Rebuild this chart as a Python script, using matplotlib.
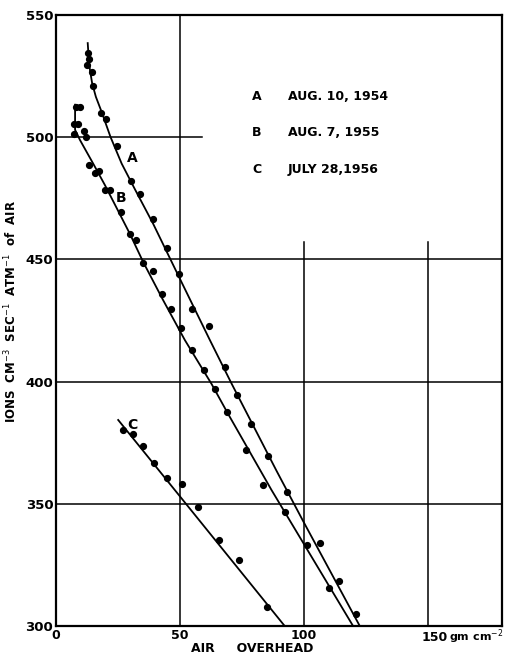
import matplotlib.pyplot as plt

# measured points (air overhead in gm cm^-2, ions cm^-3 sec^-1 atm^-1)
a_x = [13.0, 13.3, 12.6, 14.4, 15.0, 18.0, 20.2, 24.7, 30.1, 33.9, 39.0, 44.6,
       49.5, 55.0, 61.7, 68.1, 72.9, 78.9, 85.6, 93.4, 106.7, 114.1, 121.2]
a_y = [534.5, 531.8, 529.5, 526.5, 520.9, 510.1, 507.3, 496.3, 482.1, 476.6,
       466.4, 454.8, 443.9, 429.8, 422.7, 405.9, 394.5, 382.6, 369.4, 354.9,
       334.1, 318.4, 305.0]

b_x = [8.0, 9.5, 7.3, 8.7, 7.4, 11.3, 12.0, 13.3, 15.7, 17.5, 19.9, 21.6, 26.2,
       29.8, 32.1, 35.2, 39.2, 42.6, 46.4, 50.4, 54.7, 59.7, 64.1, 69.2, 76.6,
       83.6, 92.3, 101.3, 110.2]
b_y = [512.4, 512.2, 505.3, 505.3, 501.5, 502.5, 499.9, 488.5, 485.4, 486.0,
       478.6, 478.6, 469.4, 460.5, 457.8, 448.6, 445.2, 435.9, 429.8, 421.8,
       413.0, 404.8, 397.0, 387.4, 372.0, 357.8, 346.8, 333.2, 315.7]

c_x = [27.1, 30.9, 35.1, 39.4, 44.9, 50.7, 57.5, 65.7, 73.9, 85.2]
c_y = [380.3, 378.4, 373.8, 366.7, 360.4, 358.1, 348.5, 335.1, 326.9, 307.8]

# hand drawn curves
a_line_x = [12.8, 13.3, 13.7, 14.6, 16.1, 18.4, 22.0, 26.5, 31.9, 39.2, 49.7,
            62.1, 70.8, 89.0, 99.7, 122.6]
a_line_y = [538.5, 531.0, 527.5, 522.0, 516.5, 510.4, 500.1, 489.2, 478.6,
            464.6, 442.7, 417.0, 399.3, 363.5, 343.0, 300.0]
b_line_x = [7.7, 7.7, 9.7, 15.0, 19.8, 29.8, 35.2, 43.3, 52.0, 62.8, 69.5,
            87.0, 119.9]
b_line_y = [513.3, 503.0, 498.8, 489.2, 480.3, 460.5, 448.9, 433.2, 417.0,
            399.0, 386.7, 355.6, 300.0]
c_line_x = [25.1, 92.3]
c_line_y = [384.3, 300.0]

legend_keys = ["A", "B", "C"]
legend_dates = ["AUG. 10, 1954", "AUG. 7, 1955", "JULY 28,1956"]
legend_y = [516.8, 501.8, 486.8]

fig = plt.figure(figsize=(5.05, 6.58), dpi=100)
ax = fig.add_axes([56 / 505, 32 / 658, 446 / 505, 611 / 658])
ax.set_xlim(0, 180)
ax.set_ylim(300, 550)

bold = dict(fontweight="bold", family="DejaVu Sans")

# grid (partial lines as on the original sheet)
for v in [350, 400, 450]:
    ax.plot([0, 180], [v, v], color="black", lw=1.1, zorder=1)
ax.plot([0, 59], [500, 500], color="black", lw=1.1, zorder=1)
ax.plot([50, 50], [300, 550], color="black", lw=1.1, zorder=1)
for v in [100, 150]:
    ax.plot([v, v], [300, 457], color="black", lw=1.1, zorder=1)

ax.plot(a_line_x, a_line_y, color="black", lw=1.3)
ax.plot(b_line_x, b_line_y, color="black", lw=1.3)
ax.plot(c_line_x, c_line_y, color="black", lw=1.3)
for xs, ys in [(a_x, a_y), (b_x, b_y), (c_x, c_y)]:
    ax.plot(xs, ys, "o", color="black", ms=4.2, zorder=3)

ax.text(30.9, 491.3, "A", ha="center", va="center", fontsize=10, **bold)
ax.text(26.1, 475.3, "B", ha="center", va="center", fontsize=10, **bold)
ax.text(30.9, 382.3, "C", ha="center", va="center", fontsize=10, **bold)

for k, d, y in zip(legend_keys, legend_dates, legend_y):
    ax.text(81, y, k, ha="center", va="center", fontsize=9, **bold)
    ax.text(93.5, y, d, ha="left", va="center", fontsize=9, **bold)

ax.set_yticks([300, 350, 400, 450, 500, 550])
ax.set_yticklabels(["300", "350", "400", "450", "500", "550"], fontsize=9.5, **bold)
ax.set_xticks([0, 50, 100, 150])
ax.set_xticklabels(["0", "50", "100", ""], fontsize=9, **bold)
ax.tick_params(length=0, pad=2)
# last tick sits off-centre with its unit beside it
ax.text(152.8, 293.9, "150", ha="center", va="baseline", fontsize=9, **bold)
ax.text(158.5, 293.9, "gm cm$^{-2}$", ha="left", va="baseline", fontsize=8, **bold)

for s in ax.spines.values():
    s.set_linewidth(1.6)

ax.set_xlabel("AIR     OVERHEAD", fontsize=9, **bold)
ax.xaxis.set_label_coords(79 / 180, -0.027)
ax.set_ylabel("IONS  CM$^{-3}$  SEC$^{-1}$  ATM$^{-1}$  of  AIR", fontsize=8.5, **bold)
ax.yaxis.set_label_coords(-0.083, 0.514)

fig.savefig("out.png", dpi=100)
